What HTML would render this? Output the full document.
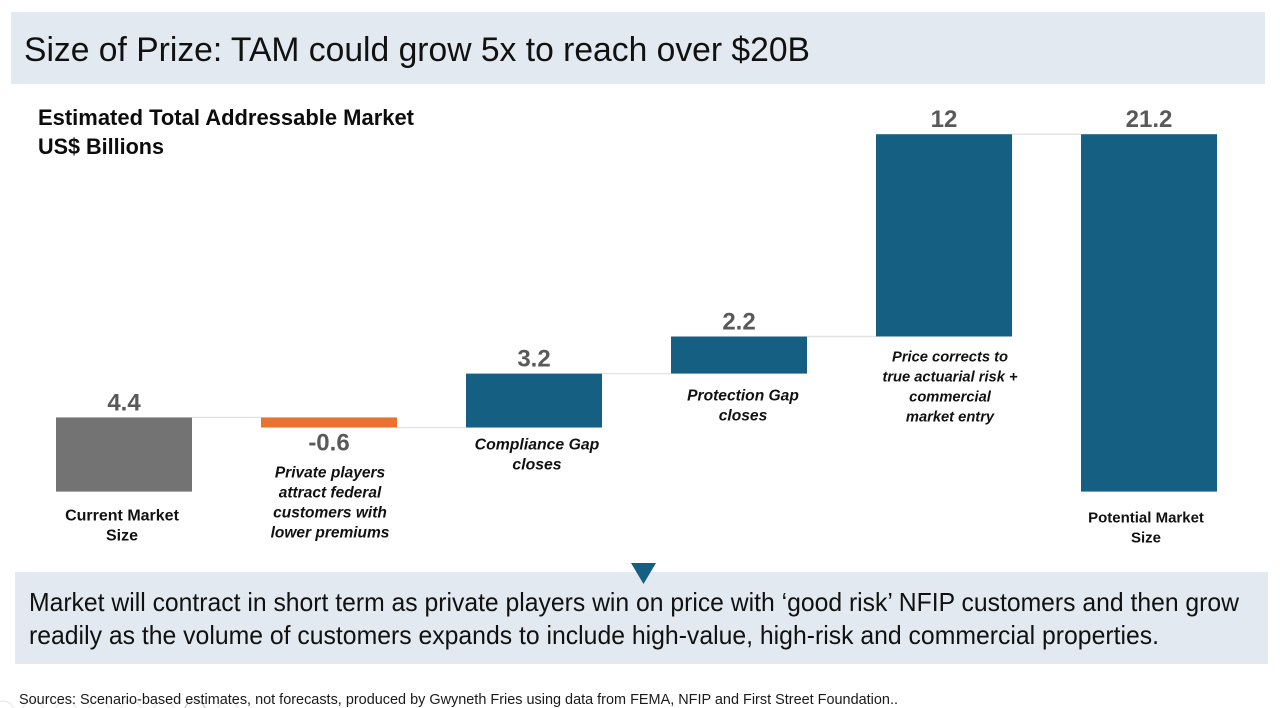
<!DOCTYPE html>
<html lang="en">
<head>
<meta charset="utf-8">
<title>Size of Prize</title>
<style>
html,body{margin:0;padding:0;background:#fff;width:1280px;height:708px;overflow:hidden}
svg{display:block;font-family:"Liberation Sans",sans-serif}
</style>
</head>
<body>
<svg id="chart" xmlns="http://www.w3.org/2000/svg" width="1280" height="708" viewBox="0 0 1280 708">
  <rect x="11" y="12" width="1254" height="72" fill="#e2e9f0"/>
  <text x="24" y="61" font-size="34" fill="#111" textLength="786" lengthAdjust="spacingAndGlyphs">Size of Prize: TAM could grow 5x to reach over $20B</text>
  <text x="38" y="125" font-size="22" font-weight="700" fill="#0c0c0c" textLength="376" lengthAdjust="spacingAndGlyphs">Estimated Total Addressable Market</text>
  <text x="38" y="154" font-size="22" font-weight="700" fill="#0c0c0c" textLength="126" lengthAdjust="spacingAndGlyphs">US$ Billions</text>
  <g id="plot"></g>
  <rect x="15" y="572" width="1253" height="92" fill="#e2e9f0"/>
  <polygon points="631,563 656,563 643.5,584" fill="#156082"/>
  <text x="29" y="611" font-size="26" fill="#111" textLength="1210" lengthAdjust="spacingAndGlyphs">Market will contract in short term as private players win on price with ‘good risk’ NFIP customers and then grow</text>
  <text x="29" y="644" font-size="26" fill="#111" textLength="1130" lengthAdjust="spacingAndGlyphs">readily as the volume of customers expands to include high-value, high-risk and commercial properties.</text>
  <g fill="none" stroke="#e4e4e4" stroke-width="1">
    <circle cx="3" cy="712" r="11"/>
    <circle cx="33" cy="712" r="11"/>
    <circle cx="66" cy="712" r="11"/>
    <circle cx="99" cy="712" r="11"/>
    <circle cx="131" cy="712" r="11"/>
    <circle cx="164" cy="712" r="11"/>
    <circle cx="195" cy="712" r="11" stroke="#bdbdbd"/>
    <circle cx="228" cy="712" r="11"/>
  </g>
  <text x="19" y="704" font-size="15" fill="#1a1a1a" textLength="879" lengthAdjust="spacingAndGlyphs">Sources: Scenario-based estimates, not forecasts, produced by Gwyneth Fries using data from FEMA, NFIP and First Street Foundation..</text>
</svg>
<script>
const categories = [
  ["Current Market", "Size"],
  ["Private players", "attract federal", "customers with", "lower premiums"],
  ["Compliance Gap", "closes"],
  ["Protection Gap", "closes"],
  ["Price corrects to", "true actuarial risk +", "commercial", "market entry"],
  ["Potential Market", "Size"]
];
const values = [4.4, -0.6, 3.2, 2.2, 12, 21.2];
const valueLabels = ["4.4", "-0.6", "3.2", "2.2", "12", "21.2"];
const barKinds = ["start", "delta", "delta", "delta", "delta", "total"];

const NS = "http://www.w3.org/2000/svg";
const plot = document.getElementById("plot");
const baselineY = 491.6;
const pxPerUnit = 357.4 / 21.2;
const barWidth = 136;
const barStep = 205;
const firstBarX = 56;

function yScale(v) {
  return baselineY - v * pxPerUnit;
}
function xScale(i) {
  return firstBarX + i * barStep;
}
function make(tag, attrs, parent) {
  const el = document.createElementNS(NS, tag);
  for (const k in attrs) el.setAttribute(k, attrs[k]);
  parent.appendChild(el);
  return el;
}
function barColor(i) {
  if (barKinds[i] === "start") return "#737373";
  return values[i] < 0 ? "#e97132" : "#156082";
}
function categoryNudge(i) {
  return [4, 25, -3, 2, 0, 6][i];
}
function categoryShift(i) {
  return [-2, 1, 3, 4, 6, -3][i];
}
function categoryFontSize(i) {
  return [16, 15.5, 15.8, 15.6, 14.7, 15][i];
}

let running = 0;
values.forEach(function (value, i) {
  let from, to;
  if (barKinds[i] === "delta") {
    from = running;
    to = running + value;
  } else {
    from = 0;
    to = value;
  }
  running = to;
  const top = Math.min(yScale(from), yScale(to));
  const bottom = Math.max(yScale(from), yScale(to));
  const x = xScale(i);
  const cx = x + barWidth / 2;

  if (i < values.length - 1) {
    const connector = make("line", {
      x1: x + barWidth, x2: xScale(i + 1), y1: yScale(running), y2: yScale(running),
      stroke: "#e3e3e3", "stroke-width": 1.4
    }, plot);
    
    
  }

  const bar = make("rect", {
    x: x, y: top, width: barWidth, height: bottom - top, fill: barColor(i)
  }, plot);
  
  

  const labelY = value < 0 ? bottom + 23 : top - 7;
  const valueText = make("text", {
    x: cx, y: labelY, "text-anchor": "middle", "font-size": 24, "font-weight": 700, fill: "#595959"
  }, plot);
  valueText.textContent = valueLabels[i];
  
  

  const italic = barKinds[i] === "delta";
  categories[i].forEach(function (line, n) {
    const t = make("text", {
      x: cx + categoryShift(i),
      y: bottom + 25 + categoryNudge(i) + n * 20,
      "text-anchor": "middle",
      "font-size": categoryFontSize(i),
      "font-weight": 700,
      "font-style": italic ? "italic" : "normal",
      fill: "#111"
    }, plot);
    t.textContent = line;
    
    
  });
});
</script>
</body>
</html>
